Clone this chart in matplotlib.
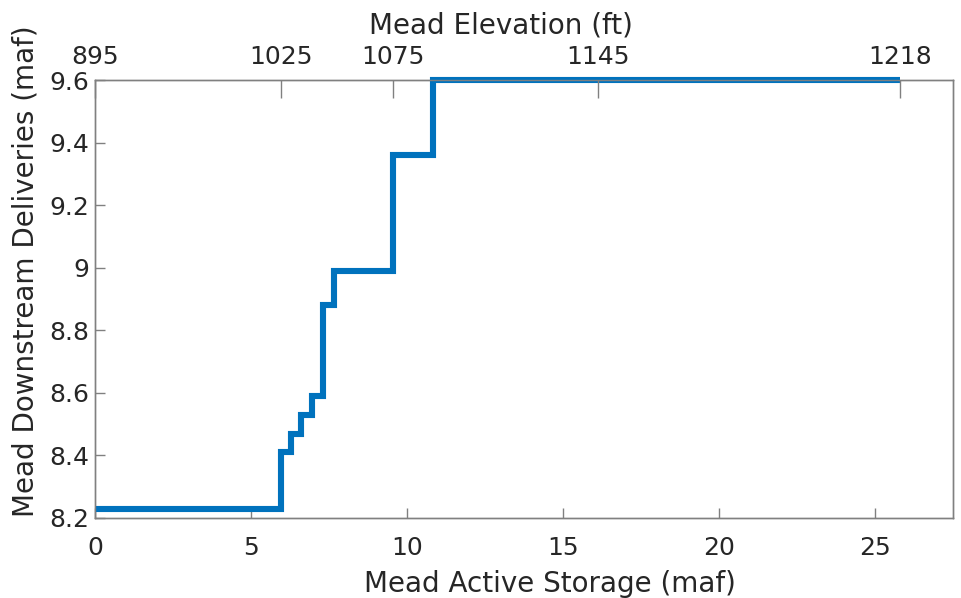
import numpy as np
import matplotlib
matplotlib.use('Agg')
from matplotlib import pyplot as plt

# step breakpoints: Mead active storage (maf) and downstream deliveries (maf)
storage = [0, 5.95, 6.27, 6.61, 6.94, 7.30, 7.67, 9.56, 10.82, 25.8]
deliveries = [8.23, 8.41, 8.47, 8.53, 8.59, 8.88, 8.99, 9.36, 9.60, 9.60]

# top axis: elevation labels at storage positions
elev_storage = [0, 5.96, 9.55, 16.12, 25.8]
elev_labels = ['895', '1025', '1075', '1145', '1218']

x_ticks = [0, 5, 10, 15, 20, 25]
y_ticks = [8.2, 8.4, 8.6, 8.8, 9.0, 9.2, 9.4, 9.6]
y_ticklabels = ['8.2', '8.4', '8.6', '8.8', '9', '9.2', '9.4', '9.6']

fs_tick = 18
fs_lab = 20
col_axis = '#808080'
col_text = '#262626'

fig = plt.figure(figsize=(9.61, 5.98), dpi=100)
ax = fig.add_axes([0.0989, 0.1338, 0.8928, 0.7324])

ax.step(storage, deliveries, where='post', color='#0072BD', lw=4.4,
        solid_joinstyle='miter', solid_capstyle='butt', clip_on=False, zorder=5)

ax.set_xlim(0, 27.5)
ax.set_ylim(8.2, 9.6)
ax.set_xticks(x_ticks)
ax.set_yticks(y_ticks)
ax.set_yticklabels(y_ticklabels)
ax.tick_params(direction='in', length=7, width=1, colors=col_axis,
               labelcolor=col_text, labelsize=fs_tick, pad=4)
ax.tick_params(axis='x', pad=13)
for s in ax.spines.values():
  s.set_color(col_axis)
  s.set_linewidth(1)
ax.set_xlabel('Mead Active Storage (maf)', fontsize=fs_lab, color=col_text, labelpad=7)
ax.xaxis.label.set_x(0.53)
ax.set_ylabel('Mead Downstream Deliveries (maf)', fontsize=fs_lab, color=col_text, labelpad=7.5)
ax.yaxis.label.set_y(0.564)

top = ax.twiny()
top.set_xlim(ax.get_xlim())
top.set_xticks(elev_storage)
top.set_xticklabels(elev_labels)
top.tick_params(direction='in', length=13, width=1, colors=col_axis,
                labelcolor=col_text, labelsize=fs_tick, pad=8)
for s in top.spines.values():
  s.set_color(col_axis)
  s.set_linewidth(1)
top.set_xlabel('Mead Elevation (ft)', fontsize=fs_lab, color=col_text, labelpad=8.5)
top.xaxis.label.set_x(0.473)

fig.savefig('out.png', dpi=100)
